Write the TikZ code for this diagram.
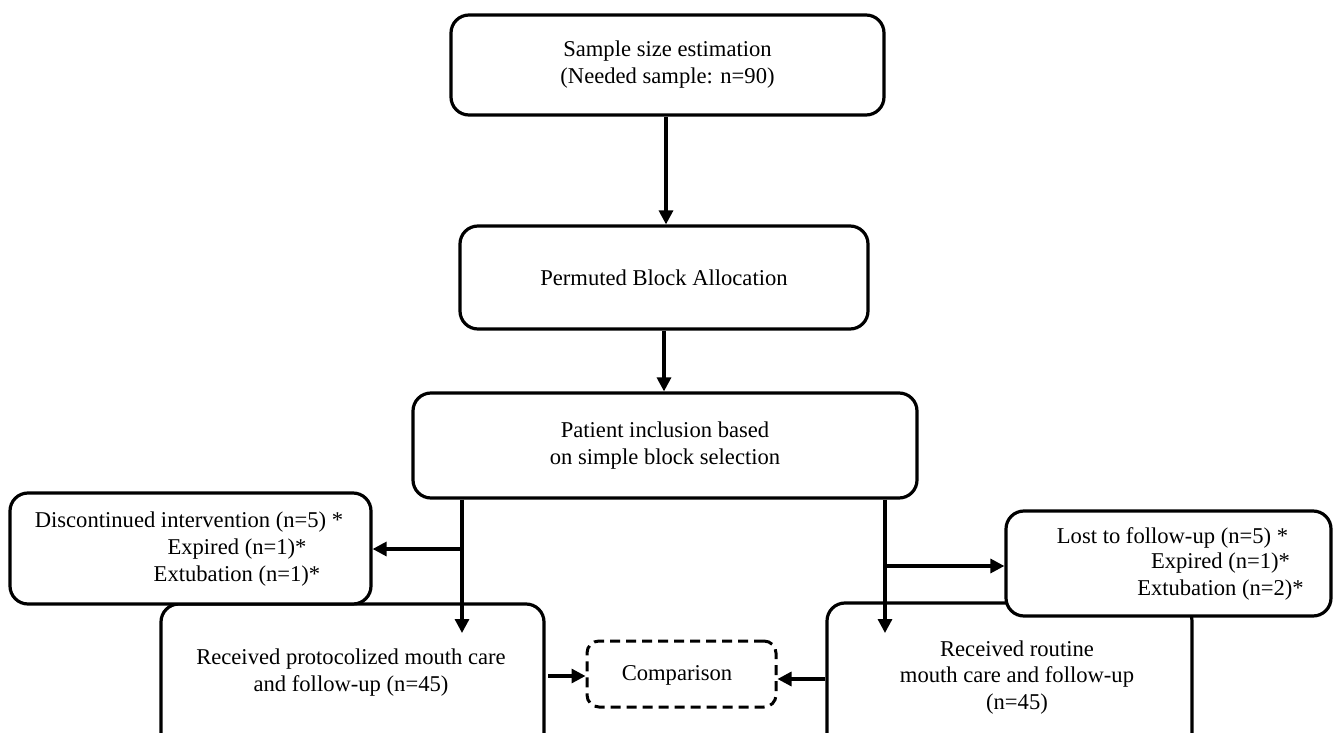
\documentclass[tikz,border=0pt]{standalone}
\usepackage{fontspec}
\setmainfont{Liberation Serif}
\usetikzlibrary{arrows.meta}
\begin{document}
\begin{tikzpicture}[x=1pt,y=-1pt,
  box/.style={draw, line width=3.2pt, rounded corners=18pt, fill=white, inner sep=0pt,
    align=center, font=\fontsize{22.6}{27}\selectfont},
  txt/.style={inner sep=0pt, align=center, font=\fontsize{22.6}{26.7}\selectfont},
  arr/.style={line width=3.2pt, -{Triangle[length=14pt,width=14pt]}},
  dbox/.style={draw, line width=3pt, dash pattern=on 10pt off 6pt, rounded corners=12pt,
    fill=white, inner sep=0pt, align=center, font=\fontsize{22.6}{27}\selectfont}]
\useasboundingbox (0,0) rectangle (1334,733);
\clip (0,0) rectangle (1334,733);

% main column
\node[box, minimum width=433pt, minimum height=100pt] (sample) at (667.5,65)
  {Sample size estimation\\(Needed sample: n=90)};
\node[box, minimum width=408pt, minimum height=103pt] (perm) at (664,277.5)
  {Permuted Block Allocation};
\node[box, minimum width=504pt, minimum height=105pt] (patient) at (665,445.5)
  {Patient inclusion based\\on simple block selection};

% lower boxes (extend past the bottom edge)
\node[box, minimum width=383pt, minimum height=176pt] (prot) at (352.5,692) {};
\node[box, minimum width=365pt, minimum height=177pt] (routine) at (1009.5,691.5) {};
\node[txt] (protT) at (351,672.5) {Received protocolized mouth care\\and follow-up (n=45)};
\node[txt] (routT) at (1017,677.5) {Received routine\\mouth care and follow-up\\(n=45)};

% side boxes
\node[box, minimum width=361pt, minimum height=111pt] (disc) at (190.5,548.5) {};
\node[txt] (d1) at (189,522) {Discontinued intervention (n=5) *};
\node[txt] (d2) at (237,549) {Expired (n=1)*};
\node[txt] (d3) at (237,576) {Extubation (n=1)*};

\node[box, minimum width=325pt, minimum height=105pt] (lost) at (1168.5,563.5) {};
\node[txt] (l1) at (1172.5,538) {Lost to follow-up (n=5) *};
\node[txt] (l2) at (1220.5,563) {Expired (n=1)*};
\node[txt] (l3) at (1220.5,590) {Extubation (n=2)*};

% comparison
\node[dbox, minimum width=189pt, minimum height=66pt] (comp) at (681.5,674) {};
\node[txt] (compT) at (677,675) {Comparison};

% connectors
\coordinate (a1) at (666,0);
\draw[arr] (a1 |- sample.south) -- (a1 |- perm.north);
\coordinate (a2) at (664,0);
\draw[arr] (a2 |- perm.south) -- (a2 |- patient.north);

\coordinate (ltip) at (462,633);
\coordinate (lmid) at (462,549);
\draw[arr] (ltip |- patient.south) -- (ltip);
\draw[arr] (lmid) -- (lmid -| disc.east);

\coordinate (rtip) at (885,633);
\coordinate (rmid) at (885,566);
\draw[arr] (rtip |- patient.south) -- (rtip);
\draw[arr] (rmid) -- (rmid -| lost.west);

\coordinate (cl) at (548,676);
\draw[arr] (cl) -- (cl -| comp.west);
\coordinate (cr) at (0,679);
\draw[arr] (cr -| routine.west) -- (cr -| comp.east);
\end{tikzpicture}
\end{document}
